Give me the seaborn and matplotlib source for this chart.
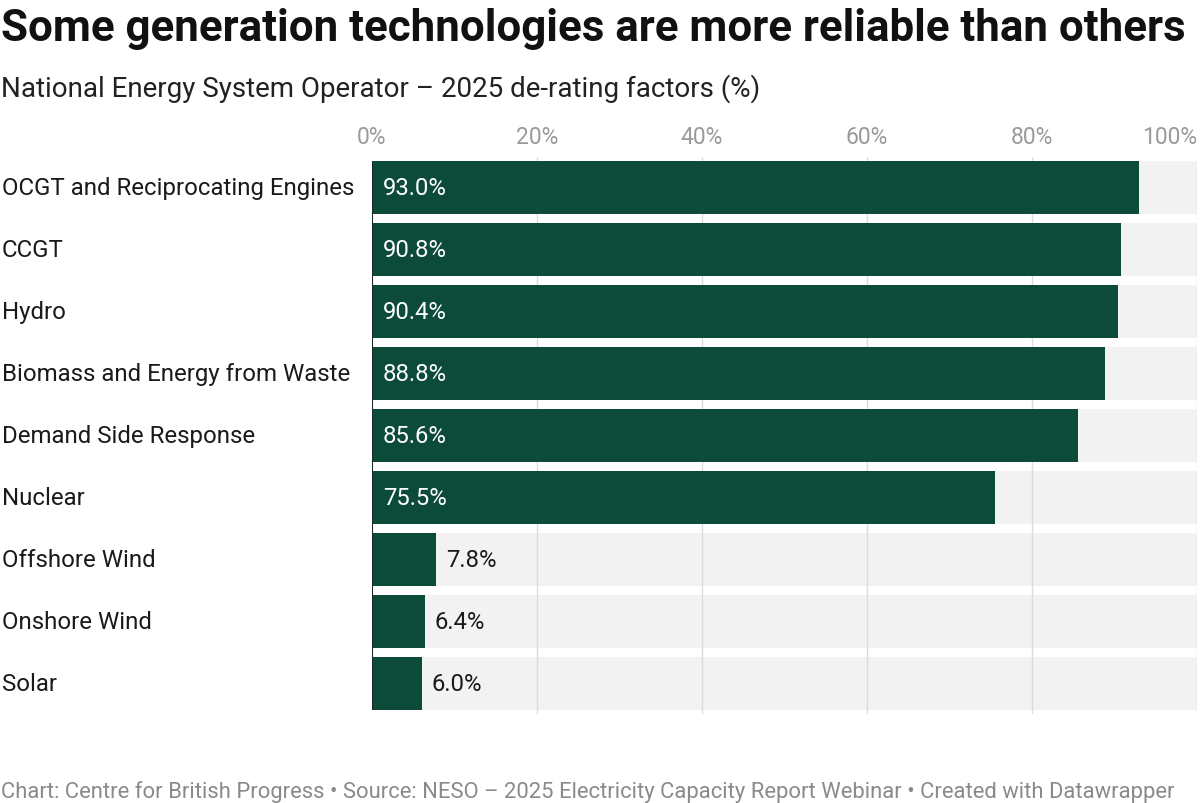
import matplotlib
matplotlib.use("Agg")
import matplotlib.pyplot as plt
import seaborn as sns
import pandas as pd

technologies = [
    "OCGT and Reciprocating Engines",
    "CCGT",
    "Hydro",
    "Biomass and Energy from Waste",
    "Demand Side Response",
    "Nuclear",
    "Offshore Wind",
    "Onshore Wind",
    "Solar",
]
derating = [93.0, 90.8, 90.4, 88.8, 85.6, 75.5, 7.8, 6.4, 6.0]
x_ticks = [0, 20, 40, 60, 80, 100]

BAR_COLOR = "#0c4a3a"
BG_COLOR = "#f2f2f2"
GRID_COLOR = "#dcdcdc"

sns.set_style("white")
plt.rcParams["font.family"] = ["Roboto", "DejaVu Sans"]

df = pd.DataFrame({"Technology": technologies, "Factor": derating})
df["Full"] = 100

fig = plt.figure(figsize=(12, 8.04), dpi=100)
ax = fig.add_axes([0.31, 0.1101, 0.6875, 0.694])

sns.barplot(data=df, y="Technology", x="Full", orient="h", saturation=1,
            color=BG_COLOR, width=0.87, ax=ax, zorder=1)
for x in x_ticks[1:]:
    ax.axvline(x, color=GRID_COLOR, lw=1, zorder=2)
sns.barplot(data=df, y="Technology", x="Factor", orient="h", saturation=1,
            color=BAR_COLOR, width=0.87, ax=ax, zorder=3)
for p in ax.patches:
    p.set_edgecolor("none")
    p.set_linewidth(0)

ax.set_xlim(0, 100)
ax.set_ylim(len(technologies) - 0.5, -0.5)
ax.vlines(0, -0.435, len(technologies) - 1 + 0.435, color="#1a2a24", lw=1.5, zorder=4)

ax.set_xticks(x_ticks)
ax.set_xticklabels([f"{t}%" for t in x_ticks])
ax.xaxis.tick_top()
ax.tick_params(axis="x", length=0, labelsize=16.5, labelcolor="#9a9a9a", pad=6)
ax.get_xticklabels()[-1].set_horizontalalignment("right")
ax.set_yticks([])
ax.set_xlabel("")
ax.set_ylabel("")
sns.despine(ax=ax, left=True, bottom=True, top=True, right=True)

for i, (name, val) in enumerate(zip(technologies, derating)):
    ax.text(-0.4485, i, name, transform=ax.get_yaxis_transform(),
            ha="left", va="center", fontsize=17.3, color="#1a1a1a")
    if val > 20:
        ax.text(1.3, i, f"{val:.1f}%", ha="left", va="center",
                fontsize=17.2, color="white", zorder=5)
    else:
        ax.text(val + 1.2, i, f"{val:.1f}%", ha="left", va="center",
                fontsize=17.2, color="#1a1a1a", zorder=5)

fig.text(0.001, 0.964, "Some generation technologies are more reliable than others",
         ha="left", va="center", fontsize=31.6, fontweight="bold", color="#111111")
fig.text(0.001, 0.890, "National Energy System Operator \u2013 2025 de-rating factors (%)",
         ha="left", va="center", fontsize=20, color="#222222")
fig.text(0.001, 0.015,
         "Chart: Centre for British Progress \u2022 Source: NESO \u2013 2025 Electricity Capacity Report Webinar \u2022 Created with Datawrapper",
         ha="left", va="center", fontsize=15.8, color="#8a8a8a")

fig.savefig("out.png", dpi=100)
